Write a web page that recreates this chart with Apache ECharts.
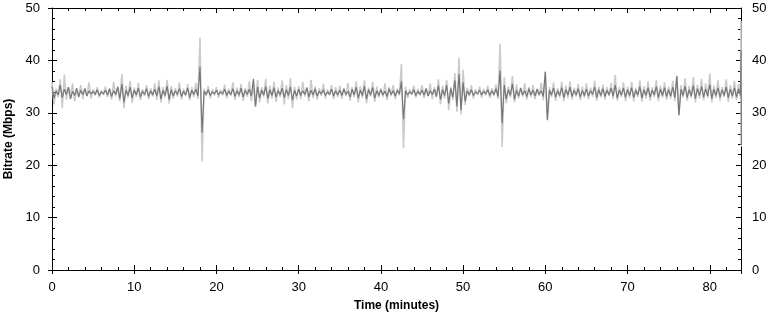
<!DOCTYPE html>
<html>
<head>
<meta charset="utf-8">
<script src="https://cdn.jsdelivr.net/npm/echarts@6/dist/echarts.min.js"></script>
<style>html,body{margin:0;padding:0;background:#fff}#c{width:770px;height:320px}</style>
</head>
<body>
<div id="c"></div>
<script>
// Sampling: one high/low pair every 0.5 minutes starting at t = 0, plus a final pair at t = 83.8
var stepMin = 0.5;
var endTime = 83.8;
var xTicks = [0, 10, 20, 30, 40, 50, 60, 70, 80];
var yTicks = [0, 10, 20, 30, 40, 50];

// light grey series (raw bitrate)
var lightHi = [
35.9,34.6,36.4,37.3,34.9,35.6,34.4,35.3,34.7,35.8,
34.5,34.9,34.3,35.0,34.6,35.9,34.8,37.4,35.2,36.1,
34.8,35.7,34.5,35.3,34.7,35.6,36.2,34.9,36.3,35.1,
34.7,35.8,34.6,35.5,34.9,35.7,44.3,34.6,35.1,34.5,
34.9,34.4,35.4,34.6,35.8,34.8,35.5,34.7,36.0,35.4,
36.3,34.9,36.5,35.2,35.9,34.8,36.2,35.3,36.6,35.0,
35.1,35.9,34.8,36.3,35.0,34.7,35.5,34.5,35.3,34.9,
35.2,34.6,35.7,34.9,36.0,35.1,36.2,34.8,35.9,35.0,
34.7,35.6,34.9,35.3,34.6,39.3,35.0,34.5,35.2,34.6,
35.3,34.7,35.6,34.9,36.4,35.2,36.3,34.9,37.6,40.5,
38.2,34.8,35.3,34.5,35.0,34.6,35.2,34.7,35.4,43.2,
36.8,35.0,37.0,35.4,34.8,35.6,34.9,35.3,34.6,35.7,
37.9,34.9,35.8,34.7,35.9,35.2,36.0,34.8,35.5,35.0,
35.6,34.8,36.1,35.0,35.4,34.9,35.7,37.2,34.9,35.8,
35.0,35.9,34.8,36.2,35.1,36.0,34.9,36.3,35.2,35.8,
35.0,36.1,37.0,35.3,36.6,35.1,36.8,35.4,36.5,35.6,
37.5,35.2,36.2,34.9,36.4,35.3,36.1,35.5,
47.5];
var lightLo = [
31.6,33.0,30.9,32.5,33.1,32.2,33.3,32.6,33.2,32.7,
33.3,32.9,33.4,33.0,32.5,33.1,32.2,30.9,32.8,31.9,
33.0,32.4,33.2,32.6,33.1,32.5,32.0,32.9,31.8,32.7,
33.1,32.5,33.2,32.4,33.0,32.6,20.7,33.2,32.7,33.3,
32.9,33.3,32.8,33.2,32.4,33.0,32.3,33.1,32.2,31.2,
32.0,33.0,31.8,32.7,32.1,33.0,31.6,32.6,30.9,32.5,
32.6,33.1,32.2,32.8,32.5,33.2,32.7,33.3,32.6,33.0,
32.7,33.2,32.3,33.0,32.0,32.8,31.8,33.1,32.1,32.9,
33.0,32.4,33.2,32.6,33.3,23.2,32.8,33.4,32.9,33.3,
32.8,33.2,32.6,33.0,31.6,32.7,30.5,32.4,30.2,29.7,
31.5,33.2,32.7,33.4,32.9,33.3,32.8,33.2,32.6,23.5,
31.8,32.9,32.0,32.7,33.1,32.5,33.0,32.6,33.2,32.4,
28.8,33.0,32.3,32.9,32.2,32.8,32.5,33.1,32.4,32.9,
32.6,33.1,32.3,32.9,32.5,33.2,32.6,32.3,33.0,32.2,
32.8,32.2,33.0,32.1,32.7,32.3,33.0,32.2,32.9,32.5,
32.7,32.2,29.6,32.9,32.3,32.8,32.0,32.7,32.4,32.9,
32.0,32.8,32.3,33.0,32.1,32.7,32.4,32.9,
23.5];

// dark grey series (smoothed bitrate)
var darkHi = [
35.0,34.2,35.3,34.5,34.9,34.1,34.7,34.3,34.6,34.2,
34.1,34.4,34.0,34.3,34.6,34.2,35.0,35.5,34.3,34.9,
34.3,34.7,34.1,34.6,34.2,34.5,35.0,34.3,35.1,34.4,
34.2,34.6,34.1,34.7,34.3,34.5,38.8,34.1,34.4,34.0,
34.3,34.0,34.5,34.1,34.6,34.2,34.7,34.3,34.5,36.5,
34.9,34.3,35.0,34.4,34.8,34.2,34.7,34.4,34.9,34.3,
34.5,34.2,34.8,34.3,34.6,34.1,34.4,34.0,34.5,34.2,
34.3,34.6,34.1,34.5,34.9,34.3,35.1,34.4,34.8,34.2,
34.4,34.1,34.6,34.2,34.3,36.0,34.2,34.0,34.4,34.1,
34.3,34.6,34.2,34.5,35.2,34.4,35.3,34.6,36.2,37.4,
35.8,34.2,34.4,34.0,34.3,34.1,34.4,34.2,34.6,38.0,
35.3,34.4,35.5,34.3,34.7,34.2,34.6,34.3,34.5,34.2,
37.8,34.3,34.7,34.2,34.8,34.4,34.9,34.3,34.6,34.2,
34.5,34.2,34.9,34.4,34.6,34.3,34.7,35.3,34.3,34.7,
34.4,34.8,34.3,35.0,34.4,34.8,34.3,35.0,34.5,34.8,
34.4,34.9,37.0,34.5,35.1,34.4,35.2,34.6,35.0,34.5,
35.4,34.5,34.8,34.4,34.9,34.5,34.8,34.6,
42.0];
var darkLo = [
32.8,33.4,32.9,33.5,32.6,33.3,33.0,33.5,33.2,33.6,
33.5,33.3,33.6,33.4,33.1,33.5,32.7,32.0,33.3,32.8,
33.4,33.0,33.5,33.1,33.4,33.2,32.6,33.3,32.5,33.2,
33.5,33.1,33.4,32.9,33.5,33.2,26.2,33.5,33.3,33.6,
33.4,33.6,33.3,33.5,33.1,33.4,33.0,33.5,33.2,31.2,
32.8,33.4,32.7,33.3,33.0,33.4,32.9,33.3,32.4,33.2,
33.3,33.5,33.0,33.4,33.2,33.6,33.3,33.5,33.2,33.4,
33.3,33.5,33.0,33.4,32.8,33.3,32.6,33.4,32.8,33.3,
33.4,33.1,33.5,33.2,33.6,28.8,33.4,33.6,33.3,33.5,
33.4,33.2,33.5,33.1,32.5,33.3,31.8,33.0,31.2,30.5,
32.2,33.4,33.3,33.6,33.4,33.6,33.3,33.5,33.1,28.0,
32.6,33.3,32.5,33.2,33.4,33.1,33.4,33.2,33.5,33.1,
28.6,33.4,33.0,33.3,32.9,33.4,33.1,33.4,33.0,33.3,
33.2,33.5,32.9,33.3,33.1,33.4,33.2,32.8,33.4,33.0,
33.3,32.9,33.4,32.8,33.3,33.0,33.4,32.9,33.3,33.1,
33.2,32.9,29.5,33.3,32.9,33.2,32.7,33.3,33.0,33.2,
32.7,33.3,33.0,33.3,32.9,33.2,33.0,33.3,
23.9];

function timeOf(i, n) { return i === n - 1 ? endTime : i * stepMin; }
function zigzag(hi, lo) {
  var out = [], n = hi.length;
  for (var i = 0; i < n; i++) {
    var t = timeOf(i, n);
    var t2 = i === n - 1 ? t + 0.05 : t + stepMin / 2;
    out.push([t, hi[i]]);
    out.push([t2, lo[i]]);
  }
  return out;
}

var FONT = '"Liberation Sans", Arial, sans-serif';
var black = '#000';
var tickLabel = { color: black, fontFamily: FONT, fontSize: 13 };

function xAx(opts) {
  return Object.assign({
    type: 'value', min: 0, max: endTime, interval: 10, gridIndex: 0,
    splitLine: { show: false },
    axisLine: { show: true, onZero: false, lineStyle: { color: black, width: 1 } },
    axisLabel: { show: false },
    axisTick: { show: true, inside: true, length: 5, lineStyle: { color: black } },
    minorTick: { show: true, splitNumber: 5, length: 3, lineStyle: { color: black } }
  }, opts);
}
function yAx(opts) {
  return Object.assign({
    type: 'value', min: 0, max: 50, interval: 10, gridIndex: 0,
    splitLine: { show: false },
    axisLine: { show: true, onZero: false, lineStyle: { color: black, width: 1 } },
    axisLabel: { show: false },
    axisTick: { show: true, inside: true, length: 5, lineStyle: { color: black } },
    minorTick: { show: true, splitNumber: 5, length: 3, lineStyle: { color: black } }
  }, opts);
}

var chart = echarts.init(document.getElementById('c'), null, { renderer: 'canvas' });
chart.setOption({
  animation: false,
  backgroundColor: '#fff',
  grid: { left: 52, right: 29, top: 8, bottom: 50, containLabel: false, outerBoundsMode: 'none' },
  xAxis: [
    xAx({ position: 'bottom',
      axisLabel: Object.assign({ show: true, margin: 11, formatter: function (v) { return xTicks.indexOf(v) >= 0 ? String(v) : ''; } }, tickLabel),
      name: 'Time (minutes)', nameLocation: 'middle', nameGap: 30,
      nameTextStyle: { color: black, fontFamily: FONT, fontSize: 12, fontWeight: 'bold' } }),
    xAx({ position: 'bottom', axisLine: { show: false }, axisTick: { show: true, inside: false, length: 4, lineStyle: { color: black } }, minorTick: { show: false } }),
    xAx({ position: 'top' })
  ],
  yAxis: [
    yAx({ position: 'left',
      axisLabel: Object.assign({ show: true, margin: 12, formatter: function (v) { return yTicks.indexOf(v) >= 0 ? String(v) : ''; } }, tickLabel),
      name: 'Bitrate (Mbps)', nameLocation: 'middle', nameGap: 36, nameRotate: 90,
      nameTextStyle: { color: black, fontFamily: FONT, fontSize: 12, fontWeight: 'bold' } }),
    yAx({ position: 'left', axisLine: { show: false }, axisTick: { show: true, inside: false, length: 4, lineStyle: { color: black } }, minorTick: { show: false } }),
    yAx({ position: 'right',
      axisLabel: Object.assign({ show: true, margin: 11, formatter: function (v) { return yTicks.indexOf(v) >= 0 ? String(v) : ''; } }, tickLabel) }),
    yAx({ position: 'right', axisLine: { show: false }, axisTick: { show: true, inside: false, length: 4, lineStyle: { color: black } }, minorTick: { show: false } })
  ],
  series: [
    { type: 'line', name: 'raw', xAxisIndex: 0, yAxisIndex: 0, data: zigzag(lightHi, lightLo),
      showSymbol: false, symbol: 'none', lineStyle: { color: '#cbcbcb', width: 1.6 }, z: 2 },
    { type: 'line', name: 'smoothed', xAxisIndex: 0, yAxisIndex: 0, data: zigzag(darkHi, darkLo),
      showSymbol: false, symbol: 'none', lineStyle: { color: '#777777', width: 1.2 }, z: 3 }
  ]
});
</script>
</body>
</html>
